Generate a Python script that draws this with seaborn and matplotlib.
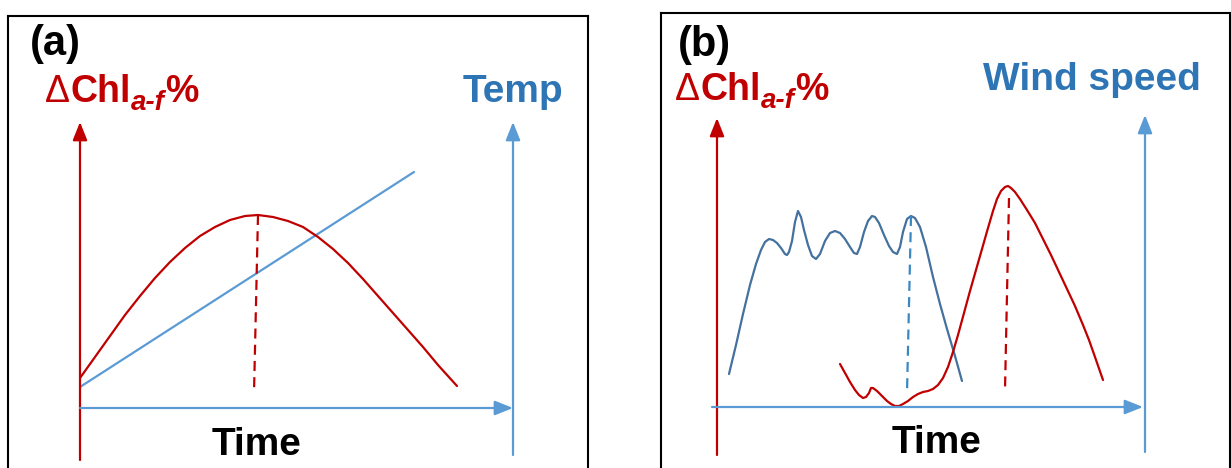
import matplotlib
matplotlib.use("Agg")
import matplotlib.pyplot as plt
import pandas as pd
import seaborn as sns

# ---------------------------------------------------------------- data
# Panel (a): chlorophyll anomaly rising and falling while temperature climbs
chl_a_time = [0, 15, 30, 45, 60, 75, 90, 105, 120, 135, 150, 165, 178,
              193, 208, 223, 238, 253, 268, 283, 298, 313, 328, 343, 358, 377]
chl_a_value = [30, 51, 72, 93, 112, 130, 146, 160, 172, 181, 188, 192, 193,
               191, 187, 181, 171, 159, 145, 129, 112, 95, 78, 61, 43, 22]
chl_a_peak_time = [178, 174]
chl_a_peak_value = [193, 15]
temp_time = [0, 334]
temp_value = [21, 236]

# Panel (b): gusty wind period followed by a delayed chlorophyll bloom
wind_time = [12, 19, 26, 33, 39, 44, 48, 52, 56, 60, 64, 68, 70, 72, 75, 78, 81, 84, 87, 91, 95, 99,
             103, 108, 113, 118, 123, 128, 133, 137, 140, 143, 147, 151, 155, 158, 162, 167, 172, 176,
             180, 183, 186, 190, 194, 198, 203, 209, 216, 223, 230, 238, 245]
wind_value = [33, 62, 93, 122, 143, 157, 165, 168, 167, 164, 159, 153, 152, 155, 166, 185, 196, 190, 177,
              162, 151, 148, 153, 166, 174, 176, 174, 168, 160, 154, 153, 160, 175, 186, 191, 190, 184,
              172, 161, 155, 153, 160, 175, 188, 191, 189, 180, 160, 130, 103, 78, 51, 26]
wind_peak_time = [194, 190]
wind_peak_value = [191, 14]
chl_b_time = [123, 128, 133, 138, 142, 146, 149, 152, 154, 156, 160, 165, 170, 174, 178, 182, 186, 191,
              196, 201, 206, 211, 216, 221, 226, 231, 236, 241, 247, 253, 259, 265, 271, 276, 280, 284,
              288, 291, 294, 298, 303, 310, 318, 326, 334, 342, 350, 358, 366, 372, 378, 386]
chl_b_value = [43, 34, 25, 17, 12, 9, 10, 14, 19, 19, 16, 11, 6, 3, 1, 1, 3, 6,
               10, 13, 15, 16, 18, 22, 29, 40, 55, 72, 94, 116, 137, 158, 179, 196, 208, 216,
               220, 221, 219, 215, 208, 197, 184, 168, 152, 135, 118, 101, 82, 67, 50, 27]
chl_b_peak_time = [292, 288]
chl_b_peak_value = [209, 17]

panel_labels = ["(a)", "(b)"]
right_axis_labels = ["Temp", "Wind speed"]
x_label = "Time"

# ---------------------------------------------------------------- style
sns.set_theme(style="white")
plt.rcParams["font.family"] = ["Liberation Sans", "DejaVu Sans"]

RED = "#C00000"
AXIS_BLUE = "#5B9BD5"
TEXT_BLUE = "#2E75B6"
WIND_BLUE = "#44719E"
WIND_DASH = "#3A88C2"
LW = 1.6
DASHES = (4.5, 2.8)

W, H = 1231, 468
fig = plt.figure(figsize=(W / 100, H / 100), dpi=100)
fig.patch.set_facecolor("white")

# two framed panels; data origin sits where the time and ΔChl arrows meet
ax_a = fig.add_axes([8 / W, 0, 580 / W, 452 / H])
ax_a.set_xlim(-72, 508)
ax_a.set_ylim(-60, 392)
ax_b = fig.add_axes([661 / W, 0, 569 / W, 455 / H])
ax_b.set_xlim(-56, 513)
ax_b.set_ylim(-61, 394)

for ax in (ax_a, ax_b):
    ax.set_xticks([])
    ax.set_yticks([])
    ax.set_facecolor("white")
    for side in ("left", "right", "top"):
        ax.spines[side].set_visible(True)
        ax.spines[side].set_color("black")
        ax.spines[side].set_linewidth(1.5)
    ax.spines["bottom"].set_visible(False)


def line(ax, t, v, color, dashed=False, lw=LW):
    df = pd.DataFrame({"time": t, "value": v})
    sns.lineplot(data=df, x="time", y="value", ax=ax, color=color, lw=lw,
                 sort=False, estimator=None, legend=False,
                 solid_capstyle="round", solid_joinstyle="round",
                 **({"linestyle": (0, DASHES)} if dashed else {}))
    ax.set_xlabel("")
    ax.set_ylabel("")


def arrow(ax, start, end, color):
    ax.annotate("", xy=end, xytext=start,
                arrowprops=dict(arrowstyle="-|>,head_length=0.55,head_width=0.22",
                                color=color, lw=LW, mutation_scale=20,
                                shrinkA=0, shrinkB=0))


def chl_label(ax, t, v):
    size = 27
    d = ax.text(t, v, "\u0394", color=RED, fontsize=size, fontweight="normal", va="baseline", ha="left")
    c = ax.annotate("Chl", xy=(1, 0), xycoords=d, color=RED, fontsize=size,
                    fontweight="bold", va="bottom", ha="left")
    s = ax.annotate("a-f", xy=(1, 0), xycoords=c, xytext=(0.5, 0), textcoords="offset points",
                    color=RED, fontsize=20, fontweight="bold", fontstyle="italic",
                    va="baseline", ha="left")
    ax.annotate("%", xy=(1, 0), xycoords=(s, c), color=RED, fontsize=size,
                fontweight="bold", va="bottom", ha="left")


# ---------------------------------------------------------------- panel (a)
arrow(ax_a, (0, -52), (0, 286), RED)
arrow(ax_a, (433, -47), (433, 286), AXIS_BLUE)
arrow(ax_a, (0, 0), (433, 0), AXIS_BLUE)
line(ax_a, temp_time, temp_value, AXIS_BLUE)
line(ax_a, chl_a_time, chl_a_value, RED)
line(ax_a, chl_a_peak_time, chl_a_peak_value, RED, dashed=True)

ax_a.text(-50, 364, panel_labels[0], fontsize=30, fontweight="bold", color="black", va="center", ha="left")
chl_label(ax_a, -35, 306)
ax_a.text(383, 306, right_axis_labels[0], fontsize=28, fontweight="bold", color=TEXT_BLUE,
          va="baseline", ha="left")
ax_a.text(177, -47, x_label, fontsize=28, fontweight="bold", color="black", va="baseline", ha="center")

# ---------------------------------------------------------------- panel (b)
arrow(ax_b, (0, -48), (0, 289), RED)
arrow(ax_b, (428, -45), (428, 292), AXIS_BLUE)
arrow(ax_b, (-5, 0), (426, 0), AXIS_BLUE)
line(ax_b, wind_time, wind_value, WIND_BLUE)
line(ax_b, wind_peak_time, wind_peak_value, WIND_DASH, dashed=True)
line(ax_b, chl_b_time, chl_b_value, RED)
line(ax_b, chl_b_peak_time, chl_b_peak_value, RED, dashed=True)

ax_b.text(-39, 362, panel_labels[1], fontsize=30, fontweight="bold", color="black", va="center", ha="left")
chl_label(ax_b, -42, 307)
ax_b.text(266, 317, right_axis_labels[1], fontsize=28, fontweight="bold", color=TEXT_BLUE,
          va="baseline", ha="left")
ax_b.text(220, -46, x_label, fontsize=28, fontweight="bold", color="black", va="baseline", ha="center")

fig.savefig("out.png", dpi=100, facecolor="white")
